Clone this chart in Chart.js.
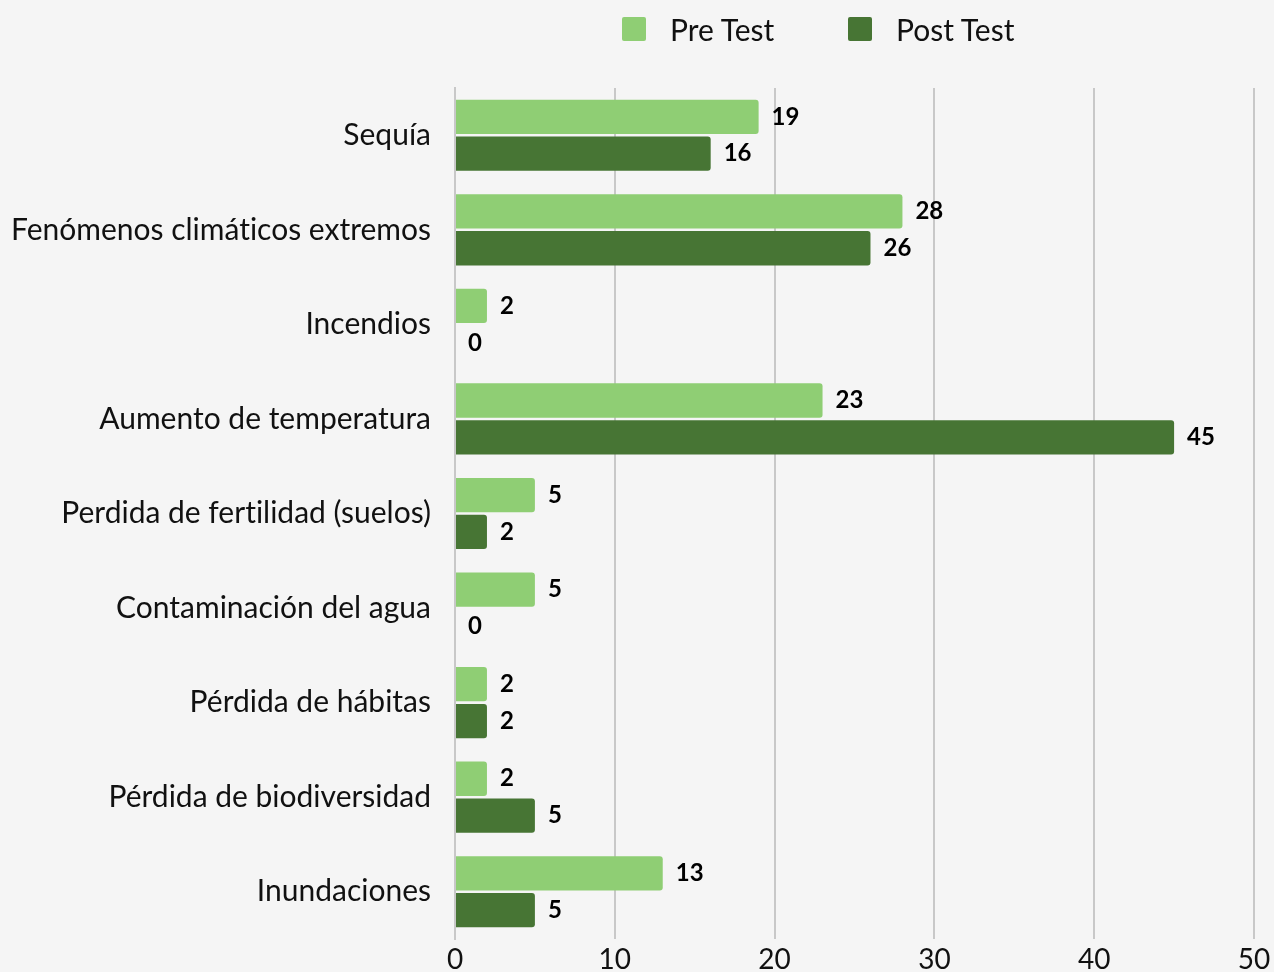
<!DOCTYPE html>
<html>
<head>
<meta charset="utf-8">
<script src="https://cdn.jsdelivr.net/npm/chart.js@4"></script>
<style>
  html, body { margin: 0; padding: 0; background: #f5f5f5; }
  #wrap { position: relative; width: 1274px; height: 972px; }
  #legend { position: absolute; top: 0; left: 0; width: 1274px; height: 60px; font-family: Lato, sans-serif; font-size: 30px; color: #111; font-variant-ligatures: none; }
  .item { position: absolute; top: 11px; display: flex; align-items: center; }
  .box { width: 24px; height: 24px; border-radius: 2px; margin-right: 24px; }
</style>
</head>
<body>
<div id="wrap">
  <canvas id="chart" width="1274" height="972"></canvas>
  <div id="legend"></div>
</div>
<script>
const categories = ['Sequía', 'Fenómenos climáticos extremos', 'Incendios', 'Aumento de temperatura',
  'Perdida de fertilidad (suelos)', 'Contaminación del agua', 'Pérdida de hábitas',
  'Pérdida de biodiversidad', 'Inundaciones'];
const preTest = [19, 28, 2, 23, 5, 5, 2, 2, 13];
const postTest = [16, 26, 0, 45, 2, 0, 2, 5, 5];
const seriesNames = ['Pre Test', 'Post Test'];
const xMax = 50;
const xStep = 10;

const colors = ['#8fce74', '#477534'];

// background fill, and no ligatures in canvas text
const bgPlugin = {
  id: 'bg',
  beforeDraw(chart) {
    const ctx = chart.ctx;
    ctx.textRendering = 'optimizeSpeed';
    ctx.save();
    ctx.fillStyle = '#f5f5f5';
    ctx.fillRect(0, 0, chart.width, chart.height);
    ctx.restore();
  }
};

// value labels at the end of each bar
const valueLabels = {
  id: 'valueLabels',
  afterDatasetsDraw(chart) {
    const ctx = chart.ctx;
    ctx.save();
    ctx.font = 'bold 24px Lato, sans-serif';
    ctx.fillStyle = '#000';
    ctx.textAlign = 'left';
    ctx.textBaseline = 'middle';
    chart.data.datasets.forEach((ds, i) => {
      chart.getDatasetMeta(i).data.forEach((bar, j) => {
        ctx.fillText(String(ds.data[j]), bar.x + 13, bar.y);
      });
    });
    ctx.restore();
  }
};

const ctx = document.getElementById('chart').getContext('2d');
const chart = new Chart(ctx, {
  type: 'bar',
  data: {
    labels: categories,
    datasets: [
      { label: seriesNames[0], data: preTest, backgroundColor: colors[0] },
      { label: seriesNames[1], data: postTest, backgroundColor: colors[1] }
    ]
  },
  options: {
    indexAxis: 'y',
    responsive: false,
    animation: false,
    layout: { padding: { top: 88, right: 20, bottom: 0, left: 0 } },
    datasets: {
      bar: {
        categoryPercentage: 0.78,
        barPercentage: 0.93,
        borderRadius: 3,
        borderSkipped: 'start'
      }
    },
    plugins: {
      legend: { display: false },
      tooltip: { enabled: false }
    },
    scales: {
      x: {
        min: 0,
        max: xMax,
        ticks: {
          stepSize: xStep,
          padding: 4,
          color: '#111',
          font: { family: 'Lato', size: 28 }
        },
        grid: { color: '#c8c8c8', lineWidth: 2, drawTicks: false },
        border: { display: false },
        afterFit(scale) {
          scale.height = 33;
          scale.paddingLeft = 0;
          scale.paddingRight = 0;
        }
      },
      y: {
        ticks: {
          padding: 24,
          color: '#111',
          font: { family: 'Lato', size: 30 }
        },
        grid: { display: false, drawTicks: false },
        border: { display: true, color: '#c8c8c8', width: 2 },
        afterFit(scale) {
          scale.width = 455;
          scale.paddingTop = 0;
          scale.paddingBottom = 0;
        }
      }
    }
  },
  plugins: [bgPlugin, valueLabels]
});

// legend drawn as html above the canvas
const legendPos = [622, 848];
const legendEl = document.getElementById('legend');
chart.data.datasets.forEach((ds, i) => {
  const item = document.createElement('div');
  item.className = 'item';
  item.style.left = legendPos[i] + 'px';
  const box = document.createElement('span');
  box.className = 'box';
  box.style.background = ds.backgroundColor;
  const txt = document.createElement('span');
  txt.textContent = ds.label;
  item.appendChild(box);
  item.appendChild(txt);
  legendEl.appendChild(item);
});
</script>
</body>
</html>
